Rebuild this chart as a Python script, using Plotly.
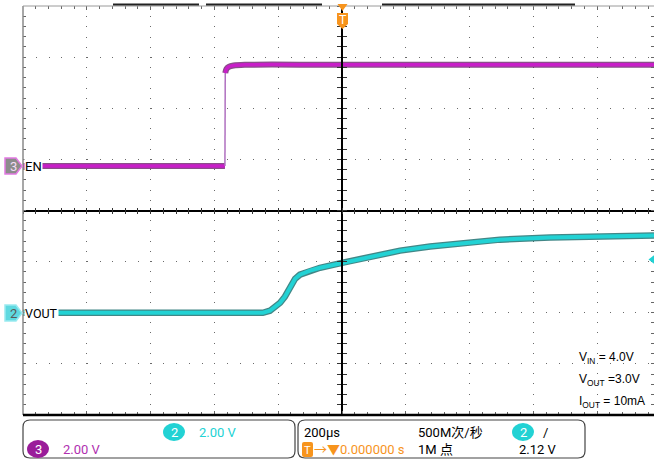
import plotly.graph_objects as go

# ---------------- data (time in µs, volts) ----------------
en_t = [-1000, -367, -366, -362, -355, -340, -300, 0, 978]
en_v = [0.0, 0.0, 3.64, 3.80, 3.88, 3.93, 3.96, 3.96, 3.96]

vout_t = [-1000, -248, -226, -194, -179, -163, -147, -132, -100, -69, 3,
          88, 182, 276, 401, 495, 652, 809, 978]
vout_v = [0.0, 0.0, 0.08, 0.39, 0.63, 1.02, 1.33, 1.49, 1.65, 1.76, 1.96,
          2.20, 2.43, 2.59, 2.75, 2.86, 2.94, 2.98, 3.02]

volts_per_div = 2.0
en_pos = 0.87      # divisions
vout_pos = -2.0    # divisions
time_per_div = 200  # µs
x_range = [-1000, 978]
y_range = [-4, 4]

ch2_label = "2.00 V"
ch3_label = "2.00 V"
timebase = "200µs"
rate = "500M次/秒"
points = "1M 点"
trig_level = "2.12 V"
trig_pos = "0.000000 s"
notes = ["V<sub>IN</sub> = 4.0V", "V<sub>OUT</sub> =3.0V", "I<sub>OUT</sub> = 10mA"]

# ---------------- geometry helpers (page pixels -> paper) ----------------
W, H = 654, 461
PL, PT, PR, PB = 23, 6, 0, 46
PW = W - PL - PR
PH = H - PT - PB


def px(x):
    return (x - PL) / PW


def py(y):
    return (PT + PH - y) / PH


def path_px(pts):
    s = ""
    for i, (x, y) in enumerate(pts):
        s += ("M" if i == 0 else "L") + f"{px(x):.5f},{py(y):.5f} "
    return s + "Z"


def rrect(x0, y0, x1, y1, r):
    P = lambda x, y: f"{px(x):.5f},{py(y):.5f}"
    return (f"M{P(x0 + r, y0)} L{P(x1 - r, y0)} Q{P(x1, y0)} {P(x1, y0 + r)} "
            f"L{P(x1, y1 - r)} Q{P(x1, y1)} {P(x1 - r, y1)} L{P(x0 + r, y1)} "
            f"Q{P(x0, y1)} {P(x0, y1 - r)} L{P(x0, y0 + r)} Q{P(x0, y0)} {P(x0 + r, y0)} Z")


NARROW = "Roboto, Noto Sans CJK SC, sans-serif"
SANS = "Liberation Sans, Arial, sans-serif"

MAG = "#c81ec8"
MAG_D = "#6e226e"
CYA = "#22d2d4"
CYA_D = "#136a6a"
ORG = "#f7941d"

en_y = [en_pos + v / volts_per_div for v in en_v]
vout_y = [vout_pos + v / volts_per_div for v in vout_v]

fig = go.Figure()

# EN: low part, edge, high part
fig.add_trace(go.Scatter(x=en_t[:2], y=en_y[:2], mode="lines",
                         line=dict(color=MAG_D, width=6), opacity=0.8, hoverinfo="skip"))
fig.add_trace(go.Scatter(x=en_t[:2], y=en_y[:2], mode="lines",
                         line=dict(color=MAG, width=3.5), hoverinfo="skip"))
fig.add_trace(go.Scatter(x=en_t[1:3], y=en_y[1:3], mode="lines",
                         line=dict(color="#b070c0", width=1.5), hoverinfo="skip"))
fig.add_trace(go.Scatter(x=en_t[2:], y=en_y[2:], mode="lines", line_shape="spline",
                         line=dict(color=MAG_D, width=6), opacity=0.8, hoverinfo="skip"))
fig.add_trace(go.Scatter(x=en_t[2:], y=en_y[2:], mode="lines", line_shape="spline",
                         line=dict(color=MAG, width=3.5), hoverinfo="skip"))

# VOUT
fig.add_trace(go.Scatter(x=vout_t, y=vout_y, mode="lines",
                         line=dict(color=CYA_D, width=6.5), opacity=0.8, hoverinfo="skip"))
fig.add_trace(go.Scatter(x=vout_t, y=vout_y, mode="lines",
                         line=dict(color=CYA, width=4), hoverinfo="skip"))

# dummy traces for center-cross overlay axes
for xa, ya in [("x2", "y"), ("x3", "y"), ("x", "y2"), ("x", "y3")]:
    fig.add_trace(go.Scatter(x=[None], y=[None], xaxis=xa, yaxis=ya,
                             showlegend=False, hoverinfo="skip"))

common_x = dict(range=x_range, showticklabels=False, zeroline=False, fixedrange=True)
common_y = dict(range=y_range, showticklabels=False, zeroline=False, fixedrange=True)

fig.update_layout(
    width=W, height=H,
    margin=dict(l=PL, r=PR, t=PT, b=PB),
    paper_bgcolor="white", plot_bgcolor="white",
    showlegend=False,
    xaxis=dict(**common_x, tick0=-1000, dtick=time_per_div, showgrid=True,
               gridcolor="#6a6a6a", gridwidth=1.2, griddash="1px,9.2px",
               showline=False, ticks="inside", ticklen=4, tickcolor="#666",
               mirror="ticks",
               minor=dict(dtick=time_per_div / 5, ticks="inside", ticklen=3,
                          tickcolor="#666", showgrid=False)),
    yaxis=dict(**common_y, tick0=-4, dtick=1, showgrid=True,
               gridcolor="#6a6a6a", gridwidth=1.2, griddash="1px,11.76px",
               showline=False, ticks="inside", ticklen=3, tickcolor="#666",
               mirror="ticks",
               minor=dict(dtick=0.2, ticks="inside", ticklen=3,
                          tickcolor="#666", showgrid=False)),
    xaxis2=dict(**common_x, overlaying="x", anchor="free", position=0.5,
                showgrid=False, showline=True, linecolor="black", linewidth=1.5,
                tick0=-1000, dtick=time_per_div / 5, ticks="outside", ticklen=3,
                tickcolor="#333"),
    xaxis3=dict(**common_x, overlaying="x", anchor="free", position=0.5,
                showgrid=False, showline=False,
                tick0=-1000, dtick=time_per_div / 5, ticks="inside", ticklen=3,
                tickcolor="#333"),
    yaxis2=dict(**common_y, overlaying="y", anchor="free", position=px(342),
                showgrid=False, showline=True, linecolor="black", linewidth=1.5,
                tick0=-4, dtick=0.2, ticks="outside", ticklen=4, tickcolor="#333"),
    yaxis3=dict(**common_y, overlaying="y", anchor="free", position=px(342),
                showgrid=False, showline=False,
                tick0=-4, dtick=0.2, ticks="inside", ticklen=4, tickcolor="#333"),
)

shapes = []
# borders
shapes.append(dict(type="line", xref="paper", yref="paper", x0=0, x1=0, y0=0, y1=1,
                   line=dict(color="#8a8a8a", width=1.5)))
shapes.append(dict(type="line", xref="paper", yref="paper", x0=0, x1=1, y0=1, y1=1,
                   line=dict(color="#9a9a9a", width=1)))
shapes.append(dict(type="line", xref="paper", yref="paper", x0=0, x1=1, y0=0, y1=0,
                   line=dict(color="black", width=2.5)))
# top record bars
for a, b in [(113, 199), (206, 322), (382, 575)]:
    shapes.append(dict(type="line", xref="paper", yref="paper", x0=px(a), x1=px(b),
                       y0=py(4.5), y1=py(4.5), line=dict(color="#222", width=2)))
# trigger marker at top
shapes.append(dict(type="path", xref="paper", yref="paper",
                   path=path_px([(337.5, 4), (347.5, 4), (342.5, 11)]),
                   fillcolor=ORG, line=dict(width=0)))
shapes.append(dict(type="path", xref="paper", yref="paper",
                   path=path_px([(337, 13), (348, 13), (348, 24), (342.5, 29), (337, 24)]),
                   fillcolor=ORG, line=dict(width=0)))
# right trigger-level marker
shapes.append(dict(type="path", xref="paper", yref="paper",
                   path=path_px([(655, 254.5), (648.5, 259.5), (655, 264.5)]),
                   fillcolor=CYA, line=dict(width=0)))
# channel pentagon badges
shapes.append(dict(type="path", xref="paper", yref="paper",
                   path=path_px([(5, 158), (16, 158), (22, 166), (16, 174), (5, 174)]),
                   fillcolor="#8c8c8c", line=dict(color="#e27ae2", width=1.5)))
shapes.append(dict(type="path", xref="paper", yref="paper",
                   path=path_px([(5, 305), (16, 305), (22, 313), (16, 321), (5, 321)]),
                   fillcolor="#5fd9e0", line=dict(color="#9aeaf0", width=1.5)))
# bottom info boxes
shapes.append(dict(type="path", xref="paper", yref="paper", path=rrect(23, 420, 295, 458, 7),
                   line=dict(color="#444", width=1.2)))
shapes.append(dict(type="path", xref="paper", yref="paper", path=rrect(298, 420, 585, 458, 7),
                   line=dict(color="#444", width=1.2)))
# badges in boxes
shapes.append(dict(type="circle", xref="paper", yref="paper",
                   x0=px(163), x1=px(185), y0=py(441), y1=py(423),
                   fillcolor=CYA, line=dict(width=0)))
shapes.append(dict(type="circle", xref="paper", yref="paper",
                   x0=px(27), x1=px(49), y0=py(458), y1=py(440),
                   fillcolor="#9a1d9a", line=dict(width=0)))
shapes.append(dict(type="circle", xref="paper", yref="paper",
                   x0=px(512), x1=px(534), y0=py(441), y1=py(423),
                   fillcolor=CYA, line=dict(width=0)))
shapes.append(dict(type="path", xref="paper", yref="paper", path=rrect(302, 442, 313, 457, 2),
                   fillcolor=ORG, line=dict(width=0)))
fig.update_layout(shapes=shapes)


def txt(x, y, s, color="black", size=13, family=NARROW, xanchor="left", bg=None):
    fig.add_annotation(x=px(x), y=py(y), xref="paper", yref="paper", text=s,
                       showarrow=False, xanchor=xanchor, yanchor="middle",
                       font=dict(color=color, size=size, family=family),
                       bgcolor=bg, borderpad=0)


txt(342.5, 20, "T", color="white", size=12, xanchor="center", family=SANS)
txt(13, 166, "3", color="#f4dcf4", size=13, xanchor="center")
txt(13, 313, "2", color="#5a5a5a", size=13, xanchor="center")
txt(24, 166, "EN", bg="white")
txt(24, 313, "VOUT", size=12.5, bg="white")

txt(578, 358, notes[0], size=12, family=SANS)
txt(578, 380, notes[1], size=12, family=SANS)
txt(578, 402, notes[2], size=12, family=SANS)

txt(174, 432, "2", color="white", xanchor="center")
txt(198, 432, ch2_label, color=CYA)
txt(38, 449, "3", color="white", xanchor="center")
txt(62, 449, ch3_label, color="#b030b0")

txt(303, 432, timebase)
txt(417, 432, rate)
txt(523, 432, "2", color="white", xanchor="center")
txt(542, 432, "/")
txt(307.5, 450, "T", color="white", size=11, xanchor="center", family=SANS)
txt(313, 450, "→▼" + trig_pos, color=ORG)
txt(417, 450, points)
txt(518, 450, trig_level)

fig.write_html("out.html", config={"displayModeBar": False},
               post_script="document.body.style.margin='0';document.body.style.overflow='hidden';")
